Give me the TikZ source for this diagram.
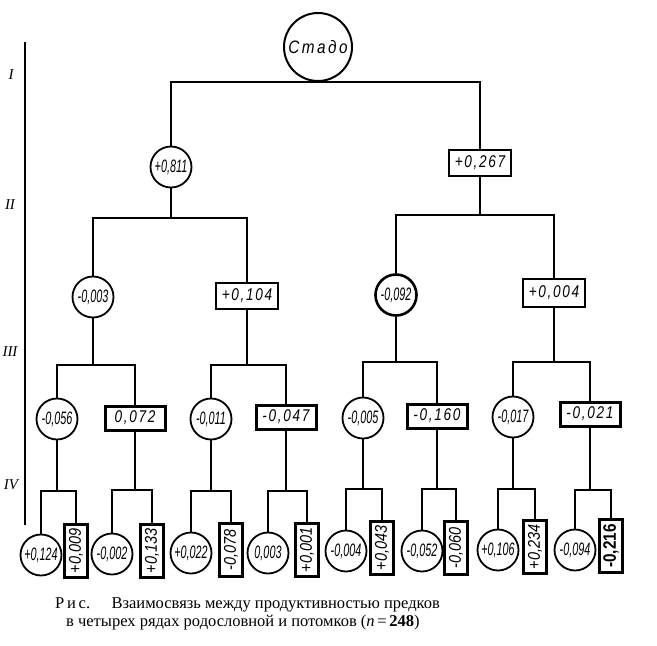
\documentclass[tikz,border=0pt]{standalone}
\usepackage{fontspec}
\setmainfont{Liberation Serif}
\newfontfamily\nf[FakeStretch=0.6]{Liberation Sans}
\newfontfamily\nfv[FakeStretch=0.85]{Liberation Sans}
\newfontfamily\nfw[FakeStretch=0.8,LetterSpace=10]{Liberation Sans}
\newfontfamily\nfr[FakeStretch=0.85,LetterSpace=14]{Liberation Sans}
\begin{document}
\begin{tikzpicture}[x=1pt,y=-1pt,
  conn/.style={line width=1.5pt},
  circ/.style={circle,draw,line width=1.8pt,inner sep=0pt,minimum size=41pt,font=\nf\itshape\fontsize{18}{18}\selectfont},
  bx/.style={rectangle,draw,line width=2pt,inner sep=0pt,minimum width=62pt,minimum height=26pt,font=\nfw\itshape\fontsize{17}{17}\selectfont},
  tbx/.style={bx,line width=3pt,minimum width=60pt,minimum height=24pt},
  vbx/.style={rectangle,draw,line width=2.2pt,inner sep=0pt,minimum width=23pt,minimum height=53pt,font=\nfv\itshape\fontsize{17}{17}\selectfont},
  lvl/.style={font=\itshape\fontsize{15}{15}\selectfont}]
\useasboundingbox (0,0) rectangle (657,646);
% axis
\coordinate (ax1) at (25,42);
\coordinate (ax2) at (25,525);
\draw[line width=1.5pt] (ax1) -- (ax2);
\node[lvl] (l1) at (11,75) {I};
\node[lvl] (l2) at (10,205) {II};
\node[lvl] (l3) at (10,352) {III};
\node[lvl] (l4) at (11,485) {IV};
% root
\node[circle,draw,line width=2pt,minimum size=68pt,inner sep=0pt,font=\nfr\itshape\fontsize{18}{18}\selectfont] (root) at (318,47) {Стадо};
% level 1
\node[circ] (A) at (171,167) {+0,811};
\node[bx] (B) at (480,163) {+0,267};
% level 2
\node[circ] (A1) at (93,297) {-0,003};
\node[bx,line width=2.4pt] (A2) at (247,296) {+0,104};
\node[circ,line width=2.6pt] (B1) at (396,295) {-0,092};
\node[bx,line width=2.6pt,minimum height=28pt] (B2) at (554,293) {+0,004};
% level 3
\node[circ] (A1a) at (57,419) {-0,056};
\node[tbx] (A1b) at (135,418) {0,072};
\node[circ] (A2a) at (211,419) {-0,011};
\node[tbx] (A2b) at (286,417) {-0,047};
\node[circ] (B1a) at (363,418) {-0,005};
\node[tbx] (B1b) at (437,416) {-0,160};
\node[circ] (B2a) at (513,417) {-0,017};
\node[tbx] (B2b) at (590,414) {-0,021};
% level 4
\node[circ] (c1) at (41,555) {+0,124};
\node[vbx] (r1) at (76,551) {\rotatebox{90}{+0,009}};
\node[circ] (c2) at (112,554) {-0,002};
\node[vbx] (r2) at (152,551) {\rotatebox{90}{+0,133}};
\node[circ] (c3) at (191,553) {+0,022};
\node[vbx] (r3) at (231,550) {\rotatebox{90}{-0,078}};
\node[circ] (c4) at (268,553) {0,003};
\node[vbx] (r4) at (307,550) {\rotatebox{90}{+0,001}};
\node[circ] (c5) at (346,551) {-0,004};
\node[vbx] (r5) at (382,548) {\rotatebox{90}{+0,043}};
\node[circ] (c6) at (422,551) {-0,052};
\node[vbx] (r6) at (456,548) {\rotatebox{90}{-0,060}};
\node[circ] (c7) at (498,550) {+0,106};
\node[vbx] (r7) at (535,547) {\rotatebox{90}{+0,234}};
\node[circ] (c8) at (575,550) {-0,094};
\node[vbx,line width=3pt,font=\nfv\bfseries\fontsize{18}{18}\selectfont] (r8) at (611,546) {\rotatebox{90}{-0,216}};
% bars
\coordinate (bA) at (171,218);
\coordinate (bB) at (480,215);
\coordinate (bA1) at (93,365);
\coordinate (bA2) at (247,365);
\coordinate (bB1) at (396,362);
\coordinate (bB2) at (554,362);
\coordinate (bA1a) at (57,491);
\coordinate (bA1b) at (135,490);
\coordinate (bA2a) at (211,491);
\coordinate (bA2b) at (286,491);
\coordinate (bB1a) at (363,489);
\coordinate (bB1b) at (437,489);
\coordinate (bB2a) at (513,489);
\coordinate (bB2b) at (590,490);
% connectors
\draw[conn] (A.north) |- (root.south) -| (B.north);
\draw[conn] (A.south) -- (bA);
\draw[conn] (A1.north) |- (bA) -| (A2.north);
\draw[conn] (B.south) -- (bB);
\draw[conn,line width=2pt] (B1.north) |- (bB) -| (B2.north);
\draw[conn] (A1.south) -- (bA1);
\draw[conn] (A1a.north) |- (bA1) -| (A1b.north);
\draw[conn] (A2.south) -- (bA2);
\draw[conn] (A2a.north) |- (bA2) -| (A2b.north);
\draw[conn] (B1.south) -- (bB1);
\draw[conn] (B1a.north) |- (bB1) -| (B1b.north);
\draw[conn] (B2.south) -- (bB2);
\draw[conn] (B2a.north) |- (bB2) -| (B2b.north);
\draw[conn] (A1a.south) -- (bA1a);
\draw[conn] (c1.north) |- (bA1a) -| (r1.north);
\draw[conn] (A1b.south) -- (bA1b);
\draw[conn] (c2.north) |- (bA1b) -| (r2.north);
\draw[conn] (A2a.south) -- (bA2a);
\draw[conn] (c3.north) |- (bA2a) -| (r3.north);
\draw[conn] (A2b.south) -- (bA2b);
\draw[conn] (c4.north) |- (bA2b) -| (r4.north);
\draw[conn] (B1a.south) -- (bB1a);
\draw[conn] (c5.north) |- (bB1a) -| (r5.north);
\draw[conn] (B1b.south) -- (bB1b);
\draw[conn] (c6.north) |- (bB1b) -| (r6.north);
\draw[conn] (B2a.south) -- (bB2a);
\draw[conn] (c7.north) |- (bB2a) -| (r7.north);
\draw[conn] (B2b.south) -- (bB2b);
\draw[conn] (c8.north) |- (bB2b) -| (r8.north);
% caption
\node[anchor=base west,font=\fontsize{16.5}{18}\selectfont,inner sep=0pt] (cap1) at (55,608) {Р\,и\,с.\hspace{1.3em}Взаимосвязь между продуктивностью предков};
\node[anchor=base west,font=\fontsize{16.5}{18}\selectfont,inner sep=0pt] (cap2) at (66,626) {в четырех рядах родословной и потомков (\textit{n}\,=\,\textbf{248})};
\end{tikzpicture}
\end{document}
